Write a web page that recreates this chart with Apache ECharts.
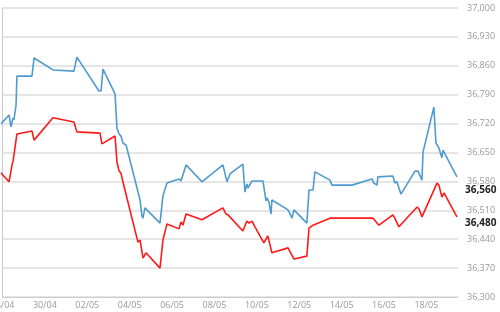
<!DOCTYPE html>
<html>
<head>
<meta charset="utf-8">
<script src="https://cdn.jsdelivr.net/npm/echarts@6/dist/echarts.min.js"></script>
<style>html,body{margin:0;padding:0;background:#fff;}#c{width:500px;height:312px;}</style>
</head>
<body>
<div id="c"></div>
<script>
// x values: days since 28/04 00:00
const startDate = [2014, 3, 28];
const blueT = [-0.12,0.31,0.40,0.50,0.54,0.64,0.68,1.39,1.49,2.38,3.37,3.51,4.55,4.65,4.74,5.31,5.40,5.50,5.59,5.68,5.83,6.49,6.58,6.63,6.72,7.43,7.57,7.76,8.33,8.42,8.51,8.66,9.41,10.40,10.59,10.73,11.34,11.44,11.53,11.58,11.67,11.77,12.29,12.33,12.43,12.48,12.57,12.67,12.71,13.47,13.66,13.75,14.36,14.46,14.65,14.74,15.45,15.54,16.49,17.43,17.52,17.67,17.71,18.42,18.51,18.61,18.80,19.46,19.60,19.79,19.84,20.35,20.45,20.59,20.73,20.78,21.44];
const blueV = [36717,36741,36712,36734,36729,36765,36835,36835,36879,36850,36847,36881,36799,36799,36852,36792,36709,36695,36690,36673,36668,36535,36496,36491,36516,36479,36545,36576,36586,36581,36579,36620,36579,36620,36579,36598,36622,36554,36574,36564,36566,36581,36581,36579,36533,36540,36530,36501,36535,36511,36491,36511,36479,36559,36559,36603,36583,36571,36571,36586,36576,36571,36591,36593,36576,36579,36549,36605,36605,36583,36651,36760,36673,36661,36637,36656,36591];
const redT = [-0.12,0.31,0.45,0.50,0.54,0.68,1.39,1.49,2.38,3.37,3.51,4.60,4.69,5.31,5.40,5.50,5.59,5.68,6.39,6.49,6.63,6.77,7.43,7.57,7.76,8.33,8.42,8.51,8.66,9.41,10.40,10.54,10.64,11.34,11.53,11.63,11.77,11.91,12.33,12.52,12.71,13.47,13.75,14.36,14.46,14.65,15.45,17.48,17.76,18.42,18.51,18.70,19.56,19.65,19.79,20.50,20.59,20.73,20.83,21.44];
const redV = [36603,36579,36620,36629,36629,36695,36702,36680,36734,36724,36700,36697,36671,36690,36627,36605,36600,36579,36433,36438,36394,36407,36370,36438,36477,36465,36482,36474,36501,36487,36516,36501,36499,36460,36484,36479,36484,36470,36431,36448,36407,36419,36392,36399,36467,36474,36491,36491,36474,36499,36491,36470,36518,36513,36494,36576,36571,36542,36552,36494];
const yTicks = [36300,36370,36440,36510,36580,36650,36720,36790,36860,36930,37000];
const markValues = [36560, 36480];

const BASE = yTicks[0];
const STEP = yTicks[1] - yTicks[0];
const fmtNum = v => Math.round(v + BASE).toLocaleString('en-US');
const pad = n => (n < 10 ? '0' : '') + n;
function dayLabel(v) {
  if (Math.abs(v - Math.round(v)) > 1e-6 || Math.round(v) % 2 !== 0) return '';
  const d = new Date(startDate[0], startDate[1], startDate[2] + Math.round(v), 12);
  return pad(d.getDate()) + '/' + pad(d.getMonth() + 1);
}
const pts = (t, v) => t.map((x, i) => [x, v[i] - BASE]);

const chart = echarts.init(document.getElementById('c'), null, {renderer: 'canvas'});
chart.setOption({
  animation: false,
  backgroundColor: '#fff',
  grid: {left: 2.5, right: 42, top: 8, bottom: 15, containLabel: false, outerBoundsMode: 'none'},
  xAxis: {
    type: 'value', min: 0, max: 21.49, interval: 2,
    axisLine: {show: true, lineStyle: {color: '#cccccc', width: 1}},
    axisTick: {show: false},
    splitLine: {show: false},
    axisLabel: {formatter: dayLabel, color: '#999', fontSize: 9, fontFamily: 'Open Sans', margin: 4, showMinLabel: true, showMaxLabel: false, alignMinLabel: 'center'}
  },
  yAxis: {
    type: 'value', position: 'right', min: 0, max: yTicks[yTicks.length - 1] - BASE, interval: STEP,
    axisLine: {show: true, lineStyle: {color: '#cccccc', width: 1}},
    axisTick: {show: false},
    splitLine: {show: true, lineStyle: {color: '#dddddd', width: 1.5}},
    axisLabel: {formatter: fmtNum, color: '#999', fontSize: 9, fontFamily: 'Open Sans', margin: 9}
  },
  series: [
    {
      type: 'line', data: pts(blueT, blueV), showSymbol: false, symbol: 'none',
      lineStyle: {color: '#4f9bcf', width: 1.6}, clip: true
    },
    {
      type: 'line', data: pts(redT, redV), showSymbol: false, symbol: 'none',
      lineStyle: {color: '#ff1a1a', width: 1.6}, clip: true,
      markLine: {
        silent: true, symbol: 'none',
        lineStyle: {color: 'rgba(0,0,0,0)', width: 0, type: 'solid'},
        label: {show: true, position: 'end', distance: 7, formatter: p => fmtNum(p.value), color: '#222', fontSize: 10, fontWeight: 'bold', fontFamily: 'Open Sans'},
        data: markValues.map(v => ({yAxis: v - BASE}))
      }
    }
  ]
});
</script>
</body>
</html>
